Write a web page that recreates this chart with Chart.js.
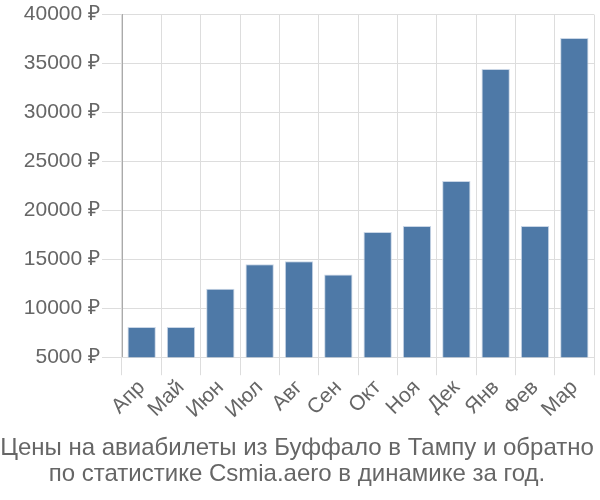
<!DOCTYPE html>
<html>
<head>
<meta charset="utf-8">
<script src="https://cdn.jsdelivr.net/npm/chart.js@4"></script>
<style>
  body { margin: 0; background: #fff; }
</style>
</head>
<body>
<canvas id="priceChart" width="600" height="500"></canvas>
<script>
const months = ['Апр', 'Май', 'Июн', 'Июл', 'Авг', 'Сен', 'Окт', 'Ноя', 'Дек', 'Янв', 'Фев', 'Мар'];
const prices = [8100, 8100, 12000, 14500, 14800, 13450, 17800, 18400, 23000, 34450, 18400, 37600];
const titleLines = ['Цены на авиабилеты из Буффало в Тампу и обратно', 'по статистике Csmia.aero в динамике за год.'];

Chart.defaults.font.family = '"Liberation Sans", Arial, sans-serif';
Chart.defaults.color = '#666';

const canvas = document.querySelector('#priceChart');
const priceChart = new Chart(canvas, {
	type: 'bar',
	data: {
		labels: months,
		datasets: [
			{
				data: prices,
				backgroundColor: '#4e79a7',
				borderColor: '#c9d6e6',
				borderWidth: 1,
			},
		],
	},
	options: {
		responsive: false,
		animation: false,
		layout: { padding: { top: 3, right: 6, left: 0, bottom: 0 } },
		plugins: {
			legend: { display: false },
			tooltip: { enabled: false },
			title: {
				display: true,
				position: 'bottom',
				text: titleLines,
				font: { size: 24, weight: 'normal', lineHeight: 1.1 },
				color: '#666',
				padding: { top: 12, bottom: 12 },
			},
		},
		scales: {
			y: {
				min: 5000,
				max: 40000,
				afterFit: (scale) => {
					scale.width = 122;
				},
				ticks: {
					stepSize: 5000,
					font: { size: 21 },
					color: '#666',
					padding: 2,
					callback: (v) => v + ' ₽',
				},
				grid: { color: '#ddd', tickLength: 20 },
				border: { color: '#aaa' },
			},
			x: {
				ticks: {
					font: { size: 21 },
					color: '#666',
					autoSkip: false,
					padding: 0,
					maxRotation: 45,
					minRotation: 45,
				},
				grid: { color: '#ddd', tickLength: 18 },
				border: { color: '#ddd' },
			},
		},
	},
});
</script>
</body>
</html>
